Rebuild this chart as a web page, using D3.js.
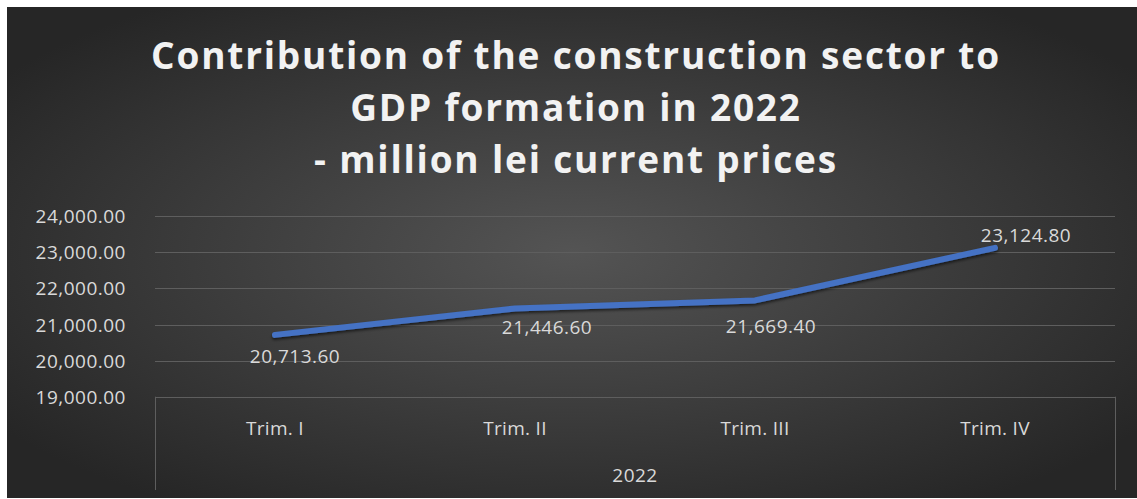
<!DOCTYPE html>
<html><head><meta charset="utf-8">
<script src="https://cdn.jsdelivr.net/npm/d3@7"></script>
<style>html,body{margin:0;padding:0;background:#fff;}svg{display:block;}</style>
</head><body>
<script>
const categories = ["Trim. I", "Trim. II", "Trim. III", "Trim. IV"];
const values = [20713.6, 21446.6, 21669.4, 23124.8];
const yTicks = [19000, 20000, 21000, 22000, 23000, 24000];
const groupLabel = "2022";
const titleLines = ["Contribution of the construction sector to", "GDP formation in 2022", "- million lei current prices"];
// label offsets (style only)
const labelDx = [20, 32, 16, 31];
const labelDy = [22, 19, 26, -12];

(function(){
const W = 1137, H = 499;
const FONT = "Open Sans, sans-serif";
const svg = d3.select("body").append("svg").attr("width", W).attr("height", H);
const defs = svg.append("defs");
const rg = defs.append("radialGradient").attr("id","bg").attr("cx","50%").attr("cy","50%").attr("r","62%");
rg.append("stop").attr("offset","0%").attr("stop-color","#545454");
rg.append("stop").attr("offset","100%").attr("stop-color","#262626");
const f = defs.append("filter").attr("id","sh").attr("x","-10%").attr("y","-50%").attr("width","120%").attr("height","200%");
f.append("feDropShadow").attr("dx",0).attr("dy",2).attr("stdDeviation",1.5).attr("flood-color","#000").attr("flood-opacity",0.6);

svg.append("rect").attr("x",7).attr("y",7).attr("width",W-7).attr("height",H-8).attr("fill","url(#bg)");

const pLeft = 155, pRight = 1115, pTop = 216.3, pBottom = 396.7;
const x = d3.scaleBand().domain(categories).range([pLeft, pRight]);
const y = d3.scaleLinear().domain([19000, 24000]).range([pBottom, pTop]);

svg.append("g").selectAll("line").data(yTicks).join("line")
  .attr("x1", pLeft).attr("x2", pRight)
  .attr("y1", d => Math.round(y(d)) + 0.5).attr("y2", d => Math.round(y(d)) + 0.5)
  .attr("stroke", "#5e5e5e").attr("stroke-width", 1);

const fmt = d3.format(",.2f");
const yAxis = d3.axisLeft(y).tickValues(yTicks).tickFormat(fmt).tickSize(0).tickPadding(0);
const ga = svg.append("g").attr("transform", `translate(126,0)`).call(yAxis);
ga.select(".domain").remove();
ga.selectAll("text").attr("fill", "#d9d9d9").attr("font-family", FONT).attr("font-size", 19).attr("letter-spacing", 0.5).attr("dy","0.34em");

svg.append("line").attr("x1", pLeft+0.5).attr("x2", pLeft+0.5).attr("y1", pBottom).attr("y2", 490).attr("stroke", "#5e5e5e");
svg.append("line").attr("x1", pRight+0.5).attr("x2", pRight+0.5).attr("y1", pBottom).attr("y2", 490).attr("stroke", "#5e5e5e");

const xAxis = d3.axisBottom(x).tickSize(0).tickPadding(0);
const gx = svg.append("g").attr("transform", `translate(0,${pBottom})`).call(xAxis);
gx.select(".domain").remove();
gx.selectAll("text").attr("fill", "#d9d9d9").attr("font-family", FONT).attr("font-size", 19).attr("letter-spacing", 0.3)
  .attr("dy", 0).attr("y", 38);

svg.append("text").attr("x", (pLeft + pRight) / 2).attr("y", 482).attr("text-anchor", "middle")
  .attr("fill", "#d9d9d9").attr("font-family", FONT).attr("font-size", 19).attr("letter-spacing", 0.5).text(groupLabel);

const line = d3.line().x((d, i) => x(categories[i]) + x.bandwidth() / 2).y(d => y(d));
svg.append("path").datum(values).attr("d", line).attr("fill", "none")
  .attr("stroke", "#4472C4").attr("stroke-width", 6).attr("stroke-linecap", "round").attr("stroke-linejoin", "round")
  .attr("filter", "url(#sh)");

svg.append("g").selectAll("text").data(values).join("text")
  .attr("x", (d, i) => x(categories[i]) + x.bandwidth() / 2 + labelDx[i])
  .attr("y", (d, i) => y(d) + labelDy[i])
  .attr("dy", "0.34em")
  .attr("text-anchor", "middle").attr("fill", "#d9d9d9")
  .attr("font-family", FONT).attr("font-size", 19).attr("letter-spacing", 0.5)
  .text(d => fmt(d));

svg.append("g").selectAll("text").data(titleLines).join("text")
  .attr("x", 576).attr("y", (d, i) => 68.5 + i * 52)
  .attr("text-anchor", "middle").attr("fill", "#f2f2f2")
  .attr("font-family", FONT).attr("font-weight", 700).attr("font-size", 37)
  .attr("letter-spacing", 1.8)
  .text(d => d);
})();
</script>
</body></html>
